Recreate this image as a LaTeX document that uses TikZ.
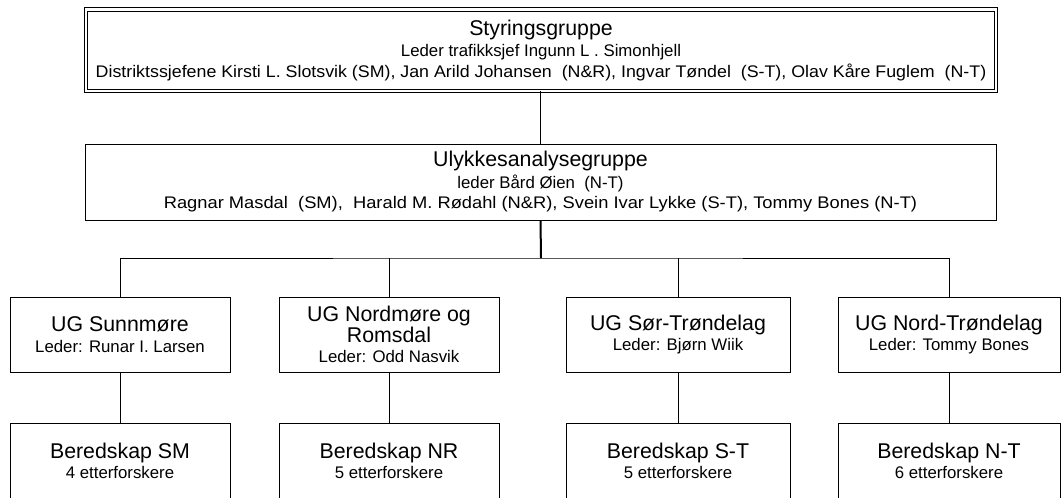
\documentclass[tikz,border=0pt]{standalone}
\usepackage{fontspec}
\setmainfont{Liberation Sans}
\newcommand\bigf{\fontsize{16pt}{17pt}\selectfont}
\newcommand\smf{\fontsize{12.6pt}{15.5pt}\selectfont}
\tikzset{
  box/.style={draw=black, line width=0.75pt, rectangle, align=center, inner sep=0pt, font=\smf},
  dbox/.style={box, double, double distance=2.2pt, line width=0.7pt},
  conn/.style={draw=black, line width=0.75pt},
  trunk/.style={draw=black, line width=1.5pt},
}
\begin{document}
\begin{tikzpicture}[x=0.75pt,y=-0.75pt]
\useasboundingbox[fill=white] (0,0) rectangle (1063,497);
% top
\node[dbox, minimum width=910*0.75pt, minimum height=81.5*0.75pt] (sg) at (541,50.25)
  {{\bigf Styringsgruppe}\\[0.5pt]
   Leder trafikksjef Ingunn L . Simonhjell\\
   \scalebox{1.06}[1]{Distriktssjefene Kirsti L. Slotsvik (SM), Jan Arild Johansen\ \ (N\&R), Ingvar Tøndel\ \ (S-T), Olav Kåre Fuglem\ \ (N-T)}};
\node[box, minimum width=911*0.75pt, minimum height=76*0.75pt] (ua) at (540.5,182)
  {{\bigf Ulykkesanalysegruppe}\\[0.5pt]
   leder Bård Øien\ \ (N-T)\\
   \scalebox{1.09}[1]{Ragnar Masdal\ \ (SM),\ \ Harald M. Rødahl (N\&R), Svein Ivar Lykke (S-T), Tommy Bones (N-T)}};
% level 3
\node[box, minimum width=220*0.75pt, minimum height=75*0.75pt] (g1) at (120,334.5)
  {{\bigf UG Sunnmøre}\\ Leder: Runar I. Larsen};
\node[box, minimum width=220*0.75pt, minimum height=75*0.75pt] (g2) at (389,334.5)
  {{\bigf UG Nordmøre og}\\ {\bigf Romsdal}\\ Leder: Odd Nasvik};
\node[box, minimum width=224*0.75pt, minimum height=75*0.75pt] (g3) at (678,334.5)
  {{\bigf UG Sør-Trøndelag}\\ Leder: Bjørn Wiik};
\node[box, minimum width=222*0.75pt, minimum height=75*0.75pt] (g4) at (949,334.5)
  {{\bigf UG Nord-Trøndelag}\\ Leder: Tommy Bones};
% bottom
\node[box, minimum width=220*0.75pt, minimum height=76*0.75pt] (b1) at (120,461)
  {{\bigf Beredskap SM}\\ 4 etterforskere};
\node[box, minimum width=220*0.75pt, minimum height=76*0.75pt] (b2) at (389,461)
  {{\bigf Beredskap NR}\\ 5 etterforskere};
\node[box, minimum width=224*0.75pt, minimum height=76*0.75pt] (b3) at (678,461)
  {{\bigf Beredskap S-T}\\ 5 etterforskere};
\node[box, minimum width=222*0.75pt, minimum height=76*0.75pt] (b4) at (949,461)
  {{\bigf Beredskap N-T}\\ 6 etterforskere};
% connectors
\coordinate (bus) at (541,258);
\draw[conn] (sg.south -| ua.north) -- (ua.north);
\draw[trunk] (ua.south) -- (bus);
\draw[conn] (g1.north) |- (bus) -| (g4.north);
\draw[conn] (g2.north) -- (g2.north |- bus);
\draw[conn] (g3.north) -- (g3.north |- bus);
\draw[conn] (g1.south) -- (b1.north);
\draw[conn] (g2.south) -- (b2.north);
\draw[conn] (g3.south) -- (b3.north);
\draw[conn] (g4.south) -- (b4.north);
\end{tikzpicture}
\end{document}
